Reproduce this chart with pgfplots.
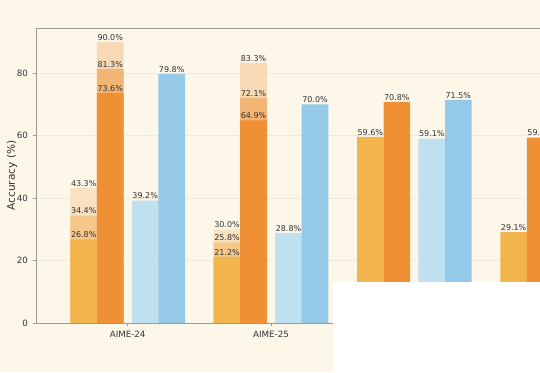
\documentclass[border=0pt]{standalone}
\usepackage{pgfplots}
\pgfplotsset{compat=1.18}
\usepackage{fontspec}
\setmainfont{DejaVu Sans}
\definecolor{bg}{HTML}{FDF7EA}
\definecolor{axisgray}{HTML}{9A9A9A}
\definecolor{gridc}{HTML}{F1E9D9}
\definecolor{txt}{HTML}{333333}
\definecolor{oA}{HTML}{F2B54E}
\definecolor{oAm}{HTML}{F5C88A}
\definecolor{oAt}{HTML}{F9E2C0}
\definecolor{oB}{HTML}{EF9035}
\definecolor{oBm}{HTML}{F3B574}
\definecolor{oBt}{HTML}{F8D9B6}
\definecolor{bA}{HTML}{BFE0EE}
\definecolor{bB}{HTML}{94C9E7}
\begin{document}
\begin{tikzpicture}
\fill[bg] (0,0) rectangle (405pt,279pt);
\begin{scope}
\clip (0,0) rectangle (405pt,279pt);
\begin{axis}[
 at={(27pt,36.75pt)}, anchor=south west,
 scale only axis, width=466.44pt, height=221.25pt,
 xmin=-0.64, xmax=3.7, ymin=0, ymax=94.5,
 axis background/.style={fill=bg},
 axis line style={draw=axisgray, line width=0.6pt},
 xtick={0,1,2,3}, xticklabels={AIME-24,AIME-25,{},{}},
 ytick={0,20,40,60,80},
 xtick pos=bottom, ytick pos=left,
 ymajorgrids, grid style={gridc, line width=0.5pt},
 tick align=outside, major tick length=2.6pt,
 tick style={axisgray, line width=0.6pt},
 ticklabel style={font=\fontsize{6.5}{7}\selectfont, text=txt},
 /pgf/number format/assume math mode=true,
 every axis y label/.style={at={(axis description cs:-0.0386,0.5)}, rotate=90, anchor=center},
 ylabel={Accuracy (\%)},
 ylabel style={font=\fontsize{7.9}{9}\selectfont, text=txt},
 bar width=0.1856,
 every axis plot/.append style={ybar, bar shift=0pt, draw=none},
 nodes near coords={\pgfmathprintnumber[fixed,fixed zerofill,precision=1]{\pgfplotspointmeta}\%},
 every node near coord/.append style={font=\fontsize{6}{7}\selectfont, text=txt, inner sep=1pt},
]
% bar 1 (stacked look: drawn tallest first)
\addplot[fill=oAt] coordinates {(-0.307,43.3) (0.693,30.0)};
\addplot[fill=oAm] coordinates {(-0.307,34.4) (0.693,25.8)};
\addplot[fill=oA] coordinates {(-0.307,26.8) (0.693,21.2) (1.693,59.6) (2.693,29.1)};
% bar 2
\addplot[fill=oBt] coordinates {(-0.122,90.0) (0.878,83.3)};
\addplot[fill=oBm] coordinates {(-0.122,81.3) (0.878,72.1)};
\addplot[fill=oB] coordinates {(-0.122,73.6) (0.878,64.9) (1.878,70.8) (2.878,59.4)};
% bar 3
\addplot[fill=bA] coordinates {(0.122,39.2) (1.122,28.8) (2.122,59.1)};
% bar 4
\addplot[fill=bB] coordinates {(0.307,79.8) (1.307,70.0) (2.307,71.5)};
\end{axis}
\fill[white] (249.75pt,0) rectangle (405pt,67.5pt);
\end{scope}
\pgfresetboundingbox
\useasboundingbox (0,0) rectangle (405pt,279pt);
\end{tikzpicture}
\end{document}
